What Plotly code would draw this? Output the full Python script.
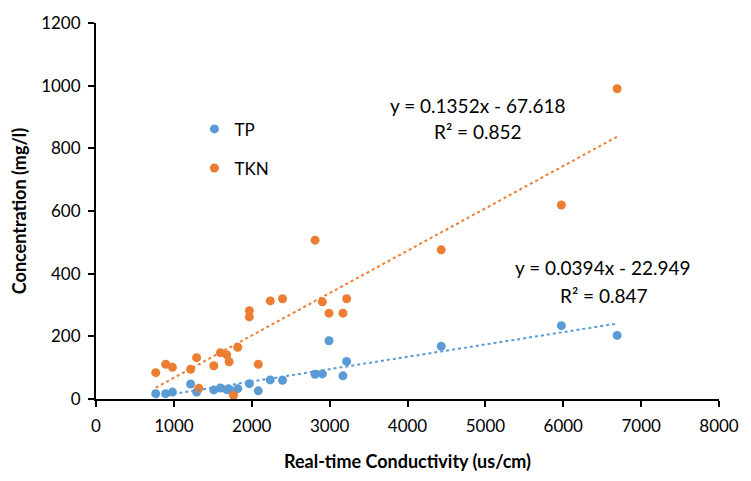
import plotly.graph_objects as go

# ---- data ----
tp_x = [767, 895, 981, 1215, 1292, 1513, 1598, 1679, 1717, 1820, 1969, 2084,
        2238, 2395, 2813, 2907, 2992, 3171, 3219, 4433, 5976, 6692]
tp_y = [17, 17, 22, 48, 22, 29, 35, 30, 30, 33, 49, 26,
        61, 60, 79, 80, 186, 74, 120, 168, 234, 203]

tkn_x = [767, 895, 981, 1215, 1292, 1321, 1513, 1598, 1679, 1709, 1765, 1820,
         1969, 1969, 2084, 2238, 2395, 2813, 2907, 2992, 3171, 3219, 4433, 5976, 6692]
tkn_y = [84, 111, 101, 95, 132, 34, 106, 148, 141, 119, 12, 165,
         282, 262, 111, 313, 320, 507, 310, 274, 274, 320, 476, 619, 990]

series_names = ["TP", "TKN"]
slopes = [0.0394, 0.1352]
intercepts = [-22.949, -67.618]
r2_values = [0.847, 0.852]

x_ticks = [0, 1000, 2000, 3000, 4000, 5000, 6000, 7000, 8000]
y_ticks = [0, 200, 400, 600, 800, 1000, 1200]

colors = ["#5B9BD5", "#ED7D31"]
FONT = "Lato, 'Open Sans', sans-serif"

fig = go.Figure()
xs_all = [tp_x, tkn_x]
ys_all = [tp_y, tkn_y]

for i, name in enumerate(series_names):
    fig.add_trace(go.Scatter(
        x=xs_all[i], y=ys_all[i], mode="markers", name=name,
        legendgroup=name,
        marker=dict(size=9, color=colors[i], line=dict(width=0)),
    ))

for i, name in enumerate(series_names):
    x0, x1 = min(xs_all[i]), max(xs_all[i])
    fig.add_trace(go.Scatter(
        x=[x0, x1],
        y=[slopes[i] * x0 + intercepts[i], slopes[i] * x1 + intercepts[i]],
        mode="lines", showlegend=False, hoverinfo="skip",
        line=dict(color=colors[i], width=2, dash="dot"),
    ))

def eq_line(i):
    sign = "-" if intercepts[i] < 0 else "+"
    return f"y = {slopes[i]:.4f}x {sign} {abs(intercepts[i]):.3f}"

def r2_line(i):
    return f"R\u00b2 = {r2_values[i]:.3f}"

eq_font = dict(family=FONT, size=19, color="#000")
# TKN equation
fig.add_annotation(x=4910, y=936, text=eq_line(1), showarrow=False, font=eq_font)
fig.add_annotation(x=4910, y=853, text=r2_line(1), showarrow=False, font=eq_font)
# TP equation
fig.add_annotation(x=6509, y=419, text=eq_line(0), showarrow=False, font=eq_font)
fig.add_annotation(x=6518, y=331, text=r2_line(0), showarrow=False, font=eq_font)

axis_common = dict(
    showline=True, linecolor="#000", linewidth=2,
    ticks="outside", ticklen=6, tickwidth=2, tickcolor="#000",
    showgrid=False, zeroline=False,
    tickfont=dict(family=FONT, size=17, color="#000"),
)

fig.update_xaxes(range=[0, 8000], tickvals=x_ticks, ticklabelstandoff=5,
                 title=dict(text="<b>Real-time Conductivity (us/cm)</b>",
                            font=dict(family=FONT, size=18, color="#000"), standoff=20),
                 **axis_common)
fig.update_yaxes(range=[0, 1200], tickvals=y_ticks, ticklabelstandoff=4,
                 title=dict(text="<b>Concentration (mg/l)</b>",
                            font=dict(family=FONT, size=18, color="#000"), standoff=10),
                 **axis_common)

fig.update_layout(
    width=751, height=481,
    margin=dict(l=96, r=29, t=20, b=75),
    paper_bgcolor="white", plot_bgcolor="white",
    font=dict(family=FONT, size=17, color="#000"),
    legend=dict(x=0.158, y=0.765, xanchor="left", yanchor="top",
                bgcolor="rgba(0,0,0,0)", traceorder="grouped", tracegroupgap=14,
                font=dict(family=FONT, size=17, color="#000")),
    showlegend=True,
)

fig.write_html("out.html",
               config={"displayModeBar": False},
               post_script="document.body.style.margin='0px';document.body.style.overflow='hidden';")
